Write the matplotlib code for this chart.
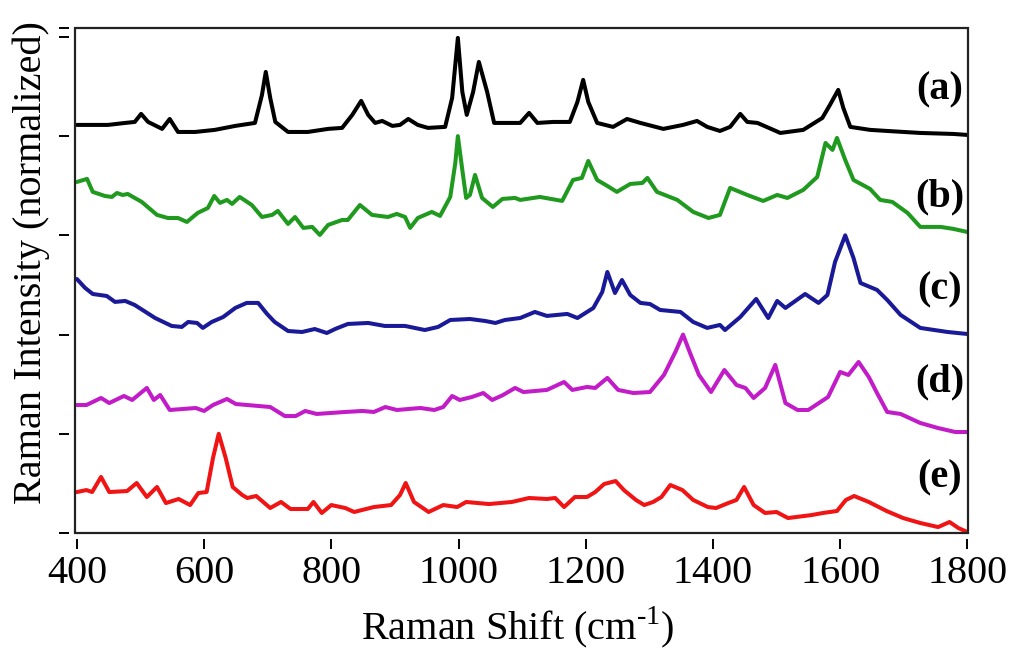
import numpy as np
import matplotlib
matplotlib.use("Agg")
import matplotlib.pyplot as plt
from matplotlib.patches import Rectangle

# Raman shift (cm-1) / normalized intensity
shift_a = [400, 449, 476, 491, 501, 512, 534, 546, 559, 586, 617, 649, 680, 691, 697, 704, 712,
           732, 763, 795, 817, 833, 847, 858, 869, 880, 896, 908, 921, 936, 952, 979, 990, 999,
           1006, 1013, 1023, 1032, 1045, 1056, 1078, 1097, 1111, 1124, 1149, 1175, 1187, 1196,
           1204, 1218, 1243, 1265, 1286, 1322, 1353, 1375, 1391, 1411, 1427, 1443, 1454, 1470,
           1506, 1542, 1572, 1584, 1597, 1605, 1616, 1647, 1674, 1726, 1778, 1800]
int_a = [0.113, 0.113, 0.133, 0.143, 0.224, 0.143, 0.073, 0.173, 0.042, 0.042, 0.063, 0.103,
         0.133, 0.415, 0.647, 0.385, 0.143, 0.042, 0.042, 0.073, 0.083, 0.214, 0.355, 0.214,
         0.133, 0.153, 0.103, 0.113, 0.173, 0.113, 0.083, 0.093, 0.385, 0.990, 0.446, 0.214,
         0.446, 0.748, 0.446, 0.133, 0.133, 0.133, 0.234, 0.133, 0.143, 0.143, 0.345, 0.567,
         0.345, 0.133, 0.093, 0.173, 0.133, 0.073, 0.113, 0.153, 0.093, 0.052, 0.093, 0.224,
         0.143, 0.133, 0.032, 0.063, 0.183, 0.315, 0.466, 0.284, 0.093, 0.063, 0.052, 0.032,
         0.022, 0.012]

shift_b = [400, 416, 425, 444, 455, 463, 472, 480, 502, 526, 543, 559, 573, 590, 606, 616, 625,
           636, 644, 656, 675, 691, 707, 716, 732, 743, 756, 770, 782, 795, 817, 826, 845, 864,
           889, 903, 916, 924, 936, 958, 971, 987, 995, 999, 1006, 1012, 1018, 1026, 1037, 1054,
           1069, 1089, 1097, 1128, 1163, 1180, 1194, 1204, 1218, 1234, 1249, 1270, 1289, 1297,
           1312, 1344, 1369, 1393, 1411, 1427, 1454, 1479, 1501, 1517, 1542, 1564, 1577, 1588,
           1595, 1608, 1621, 1647, 1663, 1682, 1706, 1726, 1758, 1778, 1800]
int_b = [0.538, 0.569, 0.438, 0.397, 0.387, 0.427, 0.407, 0.417, 0.337, 0.206, 0.175, 0.175,
         0.135, 0.226, 0.276, 0.397, 0.327, 0.357, 0.317, 0.387, 0.306, 0.185, 0.206, 0.246,
         0.115, 0.185, 0.075, 0.085, 0.004, 0.105, 0.155, 0.155, 0.306, 0.206, 0.185, 0.216,
         0.185, 0.075, 0.175, 0.236, 0.196, 0.387, 0.730, 1.000, 0.659, 0.377, 0.407, 0.609,
         0.377, 0.286, 0.367, 0.377, 0.357, 0.387, 0.347, 0.558, 0.579, 0.750, 0.558, 0.498,
         0.438, 0.518, 0.528, 0.579, 0.438, 0.357, 0.236, 0.175, 0.206, 0.478, 0.407, 0.347,
         0.407, 0.377, 0.458, 0.589, 0.931, 0.861, 0.982, 0.760, 0.558, 0.468, 0.357, 0.337,
         0.226, 0.085, 0.085, 0.065, 0.034]

shift_c = [400, 413, 425, 447, 460, 476, 491, 523, 549, 565, 575, 589, 598, 612, 630, 649, 667,
           685, 699, 711, 732, 754, 774, 793, 806, 826, 858, 884, 916, 947, 968, 987, 1018, 1042,
           1058, 1073, 1097, 1120, 1139, 1171, 1187, 1212, 1226, 1234, 1246, 1257, 1270, 1286,
           1301, 1317, 1349, 1369, 1391, 1411, 1419, 1443, 1468, 1487, 1501, 1514, 1545, 1566,
           1580, 1592, 1608, 1621, 1632, 1658, 1674, 1695, 1726, 1769, 1800]
int_c = [0.560, 0.470, 0.409, 0.389, 0.329, 0.339, 0.298, 0.167, 0.087, 0.077, 0.127, 0.117,
         0.067, 0.127, 0.177, 0.268, 0.319, 0.319, 0.208, 0.127, 0.036, 0.026, 0.056, 0.016,
         0.056, 0.107, 0.117, 0.087, 0.087, 0.046, 0.077, 0.147, 0.157, 0.137, 0.117, 0.147,
         0.167, 0.228, 0.188, 0.208, 0.167, 0.268, 0.429, 0.631, 0.419, 0.550, 0.399, 0.319,
         0.308, 0.248, 0.228, 0.127, 0.067, 0.097, 0.046, 0.177, 0.359, 0.167, 0.339, 0.268,
         0.409, 0.319, 0.399, 0.732, 1.000, 0.772, 0.520, 0.450, 0.349, 0.198, 0.067, 0.026,
         0.006]

shift_d = [400, 415, 438, 451, 474, 487, 510, 521, 531, 546, 587, 600, 614, 636, 650, 704, 727,
           744, 759, 777, 822, 849, 867, 885, 903, 940, 962, 976, 990, 1002, 1021, 1039, 1053,
           1070, 1089, 1102, 1139, 1166, 1179, 1202, 1215, 1234, 1251, 1275, 1301, 1323, 1341,
           1353, 1364, 1378, 1397, 1418, 1437, 1451, 1464, 1482, 1498, 1514, 1533, 1550, 1581,
           1600, 1613, 1629, 1645, 1658, 1674, 1695, 1726, 1754, 1781, 1800]
int_d = [0.290, 0.290, 0.361, 0.310, 0.381, 0.341, 0.462, 0.341, 0.391, 0.240, 0.260, 0.230,
         0.290, 0.351, 0.300, 0.270, 0.179, 0.179, 0.230, 0.200, 0.220, 0.230, 0.220, 0.270,
         0.240, 0.260, 0.240, 0.270, 0.381, 0.341, 0.371, 0.411, 0.341, 0.391, 0.462, 0.421,
         0.442, 0.522, 0.442, 0.472, 0.462, 0.563, 0.442, 0.411, 0.421, 0.593, 0.825, 1.000,
         0.815, 0.593, 0.421, 0.643, 0.492, 0.462, 0.361, 0.462, 0.694, 0.310, 0.240, 0.240,
         0.371, 0.623, 0.593, 0.724, 0.573, 0.411, 0.220, 0.200, 0.109, 0.058, 0.018, 0.018]

shift_e = [400, 415, 424, 438, 451, 479, 494, 510, 526, 540, 560, 578, 591, 604, 614, 623, 634,
           645, 660, 668, 682, 704, 721, 736, 763, 772, 785, 800, 822, 836, 867, 894, 908, 917,
           930, 953, 976, 998, 1012, 1048, 1084, 1111, 1139, 1152, 1166, 1183, 1202, 1215, 1229,
           1247, 1260, 1279, 1292, 1306, 1319, 1333, 1352, 1369, 1392, 1405, 1424, 1437, 1449,
           1464, 1482, 1500, 1518, 1555, 1573, 1595, 1609, 1622, 1645, 1673, 1699, 1726, 1754,
           1772, 1786, 1800]
int_e = [0.413, 0.433, 0.413, 0.565, 0.413, 0.423, 0.504, 0.363, 0.464, 0.302, 0.343, 0.282,
         0.403, 0.413, 0.756, 1.000, 0.756, 0.464, 0.383, 0.353, 0.373, 0.252, 0.313, 0.242,
         0.242, 0.313, 0.202, 0.282, 0.252, 0.212, 0.262, 0.282, 0.383, 0.504, 0.313, 0.212,
         0.282, 0.262, 0.313, 0.292, 0.313, 0.353, 0.343, 0.353, 0.262, 0.363, 0.363, 0.413,
         0.494, 0.524, 0.433, 0.333, 0.282, 0.313, 0.363, 0.484, 0.433, 0.333, 0.262, 0.252,
         0.302, 0.333, 0.464, 0.282, 0.202, 0.212, 0.151, 0.181, 0.202, 0.222, 0.333, 0.373,
         0.313, 0.222, 0.151, 0.101, 0.060, 0.111, 0.050, 0.010]

labels = ["(a)", "(b)", "(c)", "(d)", "(e)"]
colors = ["#000000", "#1f9a1f", "#1a1a99", "#c21cc8", "#f01414"]
offsets = [4, 3, 2, 1, 0]
label_y = [4.47, 3.39, 2.45, 1.52, 0.56]

plt.rcParams['font.family'] = ['Liberation Serif', 'DejaVu Serif']

fig = plt.figure(figsize=(10.24, 6.49), dpi=100)
ax = fig.add_axes([0.0732, 0.1787, 0.8721, 0.7782])

spectra = [(shift_a, int_a), (shift_b, int_b), (shift_c, int_c),
           (shift_d, int_d), (shift_e, int_e)]
for (xs, ys), c, off, lab, ly in zip(spectra, colors, offsets, labels, label_y):
    ax.plot(xs, np.array(ys) + off, color=c, lw=2.9,
            solid_joinstyle='round', solid_capstyle='round')
    ax.text(1757, ly, lab, fontsize=29, fontweight='bold', ha='center', va='center')

ax.set_xlim(397, 1801)
ax.set_ylim(0, 5.09)
ax.set_xticks(range(400, 1801, 200))
ax.set_yticks([0, 1, 2, 3, 4, 5, 5.09])
ax.set_yticklabels([])

# R-style axes: ticks sit a little away from the box
for side in ['left', 'bottom']:
    ax.spines[side].set_position(('outward', 4))
    ax.spines[side].set_color('none')
for side in ['top', 'right']:
    ax.spines[side].set_visible(False)
ax.add_patch(Rectangle((0, 0), 1, 1, transform=ax.transAxes, fill=False,
                       lw=1.6, edgecolor='#222222', clip_on=False, zorder=5))

ax.tick_params(direction='out', length=7.5, width=1.4, labelsize=29, pad=4)

ax.set_xlabel("Raman Shift (cm$^{\\mathregular{\u20101}}$)", fontsize=29, va='top')
ax.xaxis.set_label_coords(0.4955, -0.140)
ax.set_ylabel("Raman Intensity (normalized)", fontsize=29)
ax.yaxis.set_label_coords(-0.028, 0.535)

fig.savefig("out.png", dpi=100)
